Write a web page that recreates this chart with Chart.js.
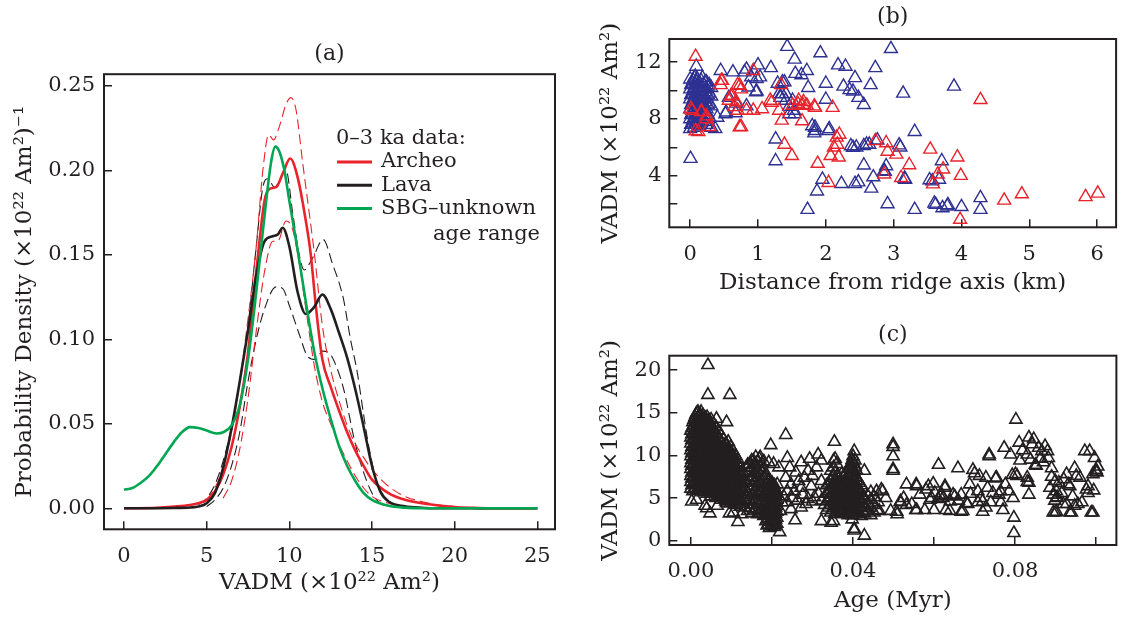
<!DOCTYPE html>
<html>
<head>
<meta charset="utf-8">
<script src="https://cdn.jsdelivr.net/npm/chart.js@4.4.1/dist/chart.umd.min.js"></script>
<style>
  html, body { margin: 0; padding: 0; background: #fff; }
  #wrap { position: relative; width: 1125px; height: 618px; }
  canvas { position: absolute; }
</style>
</head>
<body>
<div id="wrap">
  <canvas id="chartA" width="560" height="618" style="left:0;top:0"></canvas>
  <canvas id="chartB" width="565" height="309" style="left:560px;top:0"></canvas>
  <canvas id="chartC" width="565" height="309" style="left:560px;top:309px"></canvas>
</div>
<script>
// ---- panel (a): probability density curves, [VADM, density] ----
const sbgPdf = [[0,0.011],[0.5,0.012],[1,0.015],[1.5,0.019],[2,0.025],[2.5,0.032],[3,0.039],[3.5,0.045],[4,0.048],[4.5,0.0475],[5,0.046],[5.6,0.0443],[6,0.045],[6.5,0.049],[7,0.061],[7.5,0.088],[8,0.128],[8.5,0.173],[8.9,0.205],[9.15,0.214],[9.4,0.211],[9.7,0.2],[10,0.182],[10.5,0.153],[11,0.122],[11.5,0.093],[12,0.071],[12.5,0.053],[13,0.037],[13.5,0.025],[14,0.016],[14.5,0.009],[15,0.005],[16,0.0015],[17,0.0004],[18,0],[25,0]];
const archeoPdf = [[0,0],[2,0.0003],[3,0.001],[4,0.002],[4.5,0.003],[5,0.005],[5.5,0.01],[6,0.02],[6.5,0.036],[7,0.06],[7.5,0.092],[8,0.14],[8.5,0.182],[8.8,0.189],[9.2,0.19],[9.6,0.198],[10.05,0.207],[10.5,0.196],[11,0.17],[11.3,0.15],[11.6,0.12],[12,0.088],[12.5,0.072],[13,0.058],[13.5,0.045],[14,0.034],[14.5,0.025],[15,0.017],[16,0.009],[17,0.005],[18,0.003],[19,0.0017],[20,0.0008],[21,0.0003],[22,0],[25,0]];
const lavaPdf = [[0,0],[3,0.0002],[4,0.0005],[4.5,0.001],[5,0.003],[5.5,0.009],[6,0.024],[6.5,0.047],[7,0.075],[7.5,0.105],[8,0.138],[8.5,0.158],[9,0.161],[9.3,0.162],[9.6,0.166],[10,0.155],[10.5,0.128],[11,0.115],[11.5,0.119],[12,0.1265],[12.5,0.118],[13,0.104],[13.5,0.089],[14,0.07],[14.5,0.048],[15,0.025],[15.5,0.01],[16,0.004],[17,0.0012],[18,0.0003],[19,0],[25,0]];
// confidence bounds (dashed)
const archeoHi = [[5,0.005],[5.5,0.012],[6,0.025],[6.5,0.045],[7,0.075],[7.5,0.112],[8,0.155],[8.4,0.2],[8.75,0.221],[9.05,0.218],[9.4,0.226],[9.8,0.239],[10.1,0.243],[10.4,0.236],[10.8,0.205],[11.2,0.175],[11.5,0.152],[12,0.108],[12.5,0.082],[13,0.064],[13.5,0.049],[14,0.038],[14.5,0.03],[15,0.023],[16,0.013],[17,0.007],[18,0.004],[19,0.002],[20,0.001]];
const archeoLo = [[6,0.006],[6.5,0.016],[7,0.035],[7.5,0.065],[8,0.105],[8.5,0.14],[9,0.158],[9.3,0.158],[9.8,0.17],[10.2,0.165],[10.6,0.145],[11,0.118],[11.5,0.085],[12,0.063],[12.5,0.05],[13,0.038],[13.5,0.028],[14,0.019],[14.5,0.012],[15,0.007],[16,0.003],[17,0.001]];
const lavaHi = [[4.5,0.002],[5,0.006],[5.5,0.014],[6,0.028],[6.5,0.048],[7,0.075],[7.5,0.108],[8,0.155],[8.4,0.19],[8.7,0.195],[9.1,0.19],[9.8,0.2],[10.2,0.175],[10.6,0.15],[10.9,0.141],[11.4,0.148],[12.05,0.159],[12.6,0.145],[13.27,0.124],[13.7,0.1],[14.1,0.081],[14.5,0.055],[14.8,0.037],[15.4,0.012],[16,0.004],[17,0.001]];
const lavaLo = [[5,0.001],[5.5,0.005],[6,0.012],[6.5,0.025],[7,0.045],[7.5,0.075],[8,0.1],[8.5,0.118],[9.2,0.131],[9.6,0.13],[10,0.12],[10.6,0.103],[11.1,0.09],[11.6,0.088],[12,0.093],[12.4,0.092],[12.8,0.085],[13.3,0.07],[13.9,0.042],[14.4,0.024],[15,0.009],[15.5,0.003],[16,0.001]];

const aXTicks = [0, 5, 10, 15, 20, 25];
const aXLabels = ['0', '5', '10', '15', '20', '25'];
const aYTicks = [0, 0.05, 0.10, 0.15, 0.20, 0.25];
const aYLabels = ['0.00', '0.05', '0.10', '0.15', '0.20', '0.25'];

// ---- panel (b): VADM vs distance from ridge axis, [km, VADM] ----
const bBlueColumns = [
  [0.00, [7.3, 8.0, 8.7, 9.4, 10.1, 10.8]],
  [0.015, [7.6, 8.3, 9.0, 9.7, 10.4]],
  [0.03, [7.7, 8.4, 9.1, 9.8, 10.5]],
  [0.045, [7.9, 8.6, 9.3, 10.0, 10.7]],
  [0.06, [7.4, 8.1, 8.8, 9.5, 10.2, 10.9]],
  [0.075, [7.6, 8.3, 9.0, 9.7, 10.4, 11.0]],
  [0.09, [7.8, 8.5, 9.2, 9.9, 10.6, 11.7]],
  [0.105, [8.0, 8.7, 9.4, 10.1, 10.8]],
  [0.12, [7.5, 8.2, 8.9, 9.6, 10.3]],
  [0.14, [7.7, 8.4, 9.1, 9.8, 10.5]],
  [0.16, [7.9, 8.6, 9.3, 10.0, 10.7]],
  [0.18, [8.1, 8.8, 9.5, 10.2, 10.9]],
  [0.20, [8.3, 9.0, 9.7, 10.4]],
  [0.22, [7.8, 8.5, 9.2, 9.9, 10.6]],
  [0.24, [7.6, 8.7, 9.4, 10.1, 10.6]],
  [0.26, [8.3, 9.0, 9.7, 10.3]],
  [0.28, [8.1, 9.1, 9.8, 10.4]],
  [0.31, [7.4, 8.9, 9.6, 10.2]]
];
const bBlue = [[0.005,5.2],[1.43,13.1],[1.92,12.65],[2.96,12.95],[1.54,12.2],[1.19,11.6],[1.0,11.8],[0.83,11.5],[0.63,11.3],[0.45,11.4],[2.18,11.8],[2.29,11.7],[2.73,11.6],[1.55,11.2],[1.72,11.4],[1.64,11.1],[1.03,10.95],[0.9,10.95],[0.8,11.3],[2.43,10.9],[2.0,10.5],[1.39,10.6],[2.26,10.3],[2.66,10.4],[2.35,10.05],[2.4,9.95],[1.74,10.2],[0.98,9.95],[3.14,9.8],[3.89,10.3],[2.48,9.5],[2.56,9.0],[2.0,9.37],[1.35,9.77],[1.33,9.5],[1.41,9.3],[1.46,8.87],[1.54,8.35],[0.57,9.5],[0.68,9.1],[0.83,8.9],[0.52,8.35],[0.4,8.1],[0.37,7.3],[1.84,7.4],[1.84,7.17],[1.83,7.0],[2.04,7.17],[3.31,7.1],[1.26,6.57],[2.56,6.1],[2.4,5.98],[2.45,6.0],[2.6,6.2],[2.76,6.5],[3.1,6.0],[1.26,5.03],[2.56,4.73],[2.89,4.68],[3.71,5.03],[1.95,3.73],[2.23,3.43],[2.43,3.43],[2.48,3.54],[2.7,3.9],[2.86,4.33],[3.17,3.73],[3.57,3.61],[3.67,3.73],[1.87,2.9],[2.67,3.1],[4.28,2.43],[3.62,1.96],[3.72,1.72],[3.79,1.84],[4.0,1.8],[2.91,2.0],[3.31,1.6],[1.73,1.6],[4.28,1.6],[0.86,10.24],[0.97,9.9],[0.98,10.84],[1.29,10.5],[1.36,10.6],[1.31,9.77],[1.41,9.77],[1.51,9.3],[1.53,8.6],[1.46,8.35],[1.8,7.5],[2.05,7.3],[0.53,8.47],[0.67,8.42],[3.08,6.15],[2.87,4.28],[3.16,3.8],[3.53,3.69],[3.6,2.04],[3.8,1.93],[2.37,6.09],[2.64,6.2]];
const bRed = [[0.08,12.4],[0.03,8.6],[0.17,8.5],[0.12,7.1],[0.24,8.0],[0.28,7.45],[0.45,10.4],[0.47,10.7],[0.7,10.4],[0.75,10.1],[0.62,9.65],[0.57,9.3],[0.65,8.85],[0.7,8.6],[0.83,8.6],[0.93,8.6],[0.75,7.45],[0.93,11.4],[1.06,8.7],[1.18,9.3],[1.34,10.4],[1.31,8.6],[1.35,7.9],[1.39,6.2],[1.5,5.4],[1.51,8.95],[1.59,9.05],[1.67,9.2],[1.72,8.95],[1.84,8.8],[1.65,7.85],[2.1,8.8],[1.88,4.85],[2.04,3.5],[2.07,5.4],[2.16,6.7],[2.12,6.0],[2.19,5.3],[2.17,6.2],[2.73,6.45],[2.89,6.3],[2.91,5.7],[2.86,4.1],[3.04,5.5],[3.11,3.85],[3.23,4.75],[3.54,5.85],[3.58,3.4],[3.65,4.1],[3.73,4.45],[3.94,5.3],[3.99,4.0],[3.98,0.9],[4.28,9.35],[4.63,2.25],[4.89,2.7],[5.83,2.5],[6.01,2.75],[0.46,10.7],[0.73,10.35],[0.6,9.6],[0.68,9.2],[1.2,9.16],[1.6,9.3],[1.66,9.0],[1.83,8.9],[0.73,7.43],[0.01,8.7],[0.16,8.5],[0.24,8.2],[0.08,7.15],[2.2,6.9]];

const bXTicks = [0, 1, 2, 3, 4, 5, 6];
const bXLabels = ['0', '1', '2', '3', '4', '5', '6'];
const bYTicks = [2, 4, 6, 8, 10, 12];
const bYLabels = ['', '4', '', '8', '', '12'];

// ---- panel (c): VADM vs age, [Myr, VADM] ----
const cColumns = [
  [0.0000, [6.1,6.9,7.6,8.4,9.1,9.9,10.6,11.4,12.1,12.9]],
  [0.00025, [6.5,7.3,8.0,8.8,9.5,10.3,11.0,11.8,12.5,13.2]],
  [0.0005, [5.8,6.6,7.3,8.1,8.8,9.6,10.3,11.1,11.8,12.6,13.4,13.9]],
  [0.00075, [6.0,6.8,7.5,8.3,9.0,9.8,10.5,11.3,12.0,12.8,13.6,14.2]],
  [0.0010, [6.2,7.0,7.8,8.5,9.3,10.0,10.8,11.5,12.3,13.0,13.8,14.5]],
  [0.00125, [6.5,7.3,8.1,8.8,9.6,10.3,11.1,11.8,12.6,13.3,14.1,14.8]],
  [0.0015, [5.9,6.7,7.4,8.2,8.9,9.7,10.4,11.2,11.9,12.7,13.4,14.2,15.0]],
  [0.00175, [6.1,6.9,7.6,8.4,9.1,9.9,10.6,11.4,12.1,12.9,13.6,14.4,15.1]],
  [0.0020, [6.3,7.1,7.8,8.6,9.3,10.1,10.8,11.6,12.3,13.1,13.8,14.6]],
  [0.00225, [6.6,7.4,8.1,8.9,9.6,10.4,11.1,11.9,12.6,13.4,14.1,14.8]],
  [0.0025, [6.0,6.8,7.5,8.3,9.0,9.8,10.5,11.3,12.0,12.8,13.5,14.3,15.1]],
  [0.00275, [6.2,7.0,7.7,8.5,9.2,10.0,10.7,11.5,12.2,13.0,13.7,14.5]],
  [0.0030, [5.7,6.5,7.2,8.0,8.7,9.5,10.2,11.0,11.7,12.5,13.2,14.0,14.7]],
  [0.00325, [5.9,6.7,7.4,8.2,8.9,9.7,10.4,11.2,11.9,12.7,13.4,14.2]],
  [0.0035, [6.1,6.9,7.6,8.4,9.1,9.9,10.6,11.4,12.1,12.9,13.6,14.4]],
  [0.00375, [6.4,7.2,7.9,8.7,9.4,10.2,10.9,11.7,12.4,13.2,13.9]],
  [0.0040, [5.5,6.3,7.0,7.8,8.5,9.3,10.0,10.8,11.5,12.3,13.0,13.8,14.5]],
  [0.00425, [5.8,6.6,7.3,8.1,8.8,9.6,10.3,11.1,11.8,12.6,13.3,14.1]],
  [0.0045, [5.8,6.6,7.3,8.1,8.8,9.6,10.3,11.1,11.8,12.6,13.3,14.1]],
  [0.00475, [5.5,6.2,7.0,7.7,8.5,9.2,10.0,10.7,11.5,12.2,13.0,13.8]],
  [0.0050, [5.2,6.0,6.7,7.5,8.2,9.0,9.7,10.5,11.2,12.0,12.7,13.5,14.2]],
  [0.0053, [5.8,6.6,7.3,8.1,8.8,9.6,10.3,11.1,11.8,12.6,13.3]],
  [0.0056, [5.5,6.3,7.0,7.8,8.5,9.3,10.0,10.8,11.5,12.3,13.0,13.7]],
  [0.0059, [5.2,6.0,6.8,7.5,8.3,9.0,9.8,10.5,11.3,12.0,12.8]],
  [0.0062, [5.0,5.8,6.5,7.3,8.0,8.8,9.5,10.3,11.0,11.8,12.5,13.3]],
  [0.0065, [5.6,6.4,7.1,7.9,8.6,9.4,10.1,10.9,11.6,12.4]],
  [0.0068, [5.3,6.1,6.8,7.6,8.3,9.1,9.8,10.6,11.3,12.1,12.9]],
  [0.0071, [5.1,5.9,6.6,7.4,8.1,8.9,9.6,10.4,11.1,11.9]],
  [0.0074, [4.8,5.6,6.3,7.1,7.8,8.6,9.3,10.1,10.8,11.6,12.4]],
  [0.0077, [5.4,6.2,6.9,7.7,8.4,9.2,9.9,10.7,11.4]],
  [0.0080, [5.1,5.9,6.6,7.4,8.1,8.9,9.6,10.4,11.1,11.9]],
  [0.0083, [4.9,5.7,6.4,7.2,7.9,8.7,9.4,10.2,10.9]],
  [0.0086, [4.6,5.4,6.1,6.9,7.6,8.4,9.1,9.9,10.6,11.4]],
  [0.0089, [5.2,6.0,6.7,7.5,8.2,9.0,9.7,10.5,11.1]],
  [0.0092, [4.9,5.7,6.4,7.2,7.9,8.7,9.4,10.2,10.9,11.6]],
  [0.0095, [4.7,5.5,6.2,7.0,7.7,8.5,9.2,10.0,10.7]],
  [0.0098, [4.4,5.2,5.9,6.7,7.4,8.2,8.9,9.7,10.4,11.0]],
  [0.0101, [5.0,5.8,6.5,7.3,8.0,8.8,9.5,10.2]],
  [0.0104, [4.7,5.5,6.2,7.0,7.7,8.5,9.2,9.9,10.5]],
  [0.0107, [4.5,5.3,6.0,6.8,7.5,8.3,9.0,9.7]],
  [0.0110, [4.2,5.0,5.7,6.5,7.2,8.0,8.7,9.5,10.0]],
  [0.0113, [4.8,5.6,6.3,7.1,7.8,8.6,9.2]],
  [0.0116, [4.5,5.3,6.0,6.8,7.5,8.3,9.0,9.5]],
  [0.0119, [4.3,5.1,5.8,6.6,7.3,8.1,8.8]],
  [0.0122, [4.0,4.8,5.5,6.3,7.0,7.8,8.6]],
  [0.0125, [4.6,5.4,6.1,6.9,7.6]],
  [0.0128, [4.3,5.1,5.8,6.6,7.3,8.0]],
  [0.0134, [3.9,4.7,5.4,6.2,7.0]],
  [0.0140, [3.5,4.6,5.7,6.8,7.9,8.9]],
  [0.0145, [3.8,4.9,6.0,7.1,8.2,9.0]],
  [0.0150, [3.2,4.2,5.3,6.4,7.5,8.5,9.4]],
  [0.0155, [3.5,4.6,5.7,6.8,7.9,8.9]],
  [0.0160, [3.7,4.8,5.9,7.0,8.0,9.0,9.8]],
  [0.0165, [3.1,4.2,5.3,6.3,7.4,8.3,9.2]],
  [0.0170, [3.3,4.4,5.5,6.6,7.7,8.6]],
  [0.0175, [3.6,4.7,5.8,6.9,8.0,9.0]],
  [0.0180, [2.9,4.0,5.1,6.2,7.3,8.3,9.3]],
  [0.0185, [2.3,3.0,3.7,4.5,5.6,6.5,7.6]],
  [0.0188, [1.8,2.5,3.2,3.9,4.6,5.3,6.0,6.7]],
  [0.0191, [1.9,2.6,3.3,4.0,4.8,5.5,6.2,6.9]],
  [0.0194, [1.5,2.2,2.9,3.6,4.3,5.0,5.7,6.4,7.1]],
  [0.0197, [1.7,2.4,3.1,3.8,4.5,5.2,5.9,6.6]],
  [0.0200, [1.9,2.6,3.3,4.0,4.7,5.4,6.1,6.8]],
  [0.0203, [2.1,2.8,3.5,4.2,4.9,5.6,6.3]],
  [0.0206, [1.6,2.3,3.0,3.7,4.4,5.1,5.8,6.5]],
  [0.0209, [1.8,2.5,3.2,3.9,4.6,5.3,6.0]],
  [0.0212, [2.0,2.7,3.4,4.1,4.8,5.5]],
  [0.0335, [3.6,4.6,5.6,6.5]],
  [0.0340, [3.9,4.9,5.8,6.7]],
  [0.0345, [3.3,4.2,5.1,6.0,7.0,8.2]],
  [0.0348, [3.6,4.5,5.4,6.3,7.4]],
  [0.0352, [3.8,4.7,5.6,6.6,7.6,8.6,9.4]],
  [0.0355, [3.1,4.1,5.0,6.0,7.0,8.0]],
  [0.0358, [3.4,4.3,5.3,6.2,7.2]],
  [0.0362, [3.9,4.8,5.8,6.8,7.7]],
  [0.0365, [3.6,4.5,5.4,6.4,7.3]],
  [0.0369, [3.4,4.3,5.2,6.1,7.0]],
  [0.0372, [3.2,4.1,5.0,5.9,6.9,7.8]],
  [0.0376, [3.7,4.6,5.5,6.5,7.5]],
  [0.0380, [3.5,4.4,5.3,6.2,7.1]],
  [0.0384, [3.2,4.1,5.0,6.0,6.9,8.0]],
  [0.0388, [3.0,3.9,4.8,5.7,6.6,7.6,8.5]],
  [0.0392, [3.6,4.5,5.4,6.3,7.3,8.4]],
  [0.0395, [3.3,4.2,5.1,6.0,7.0,8.0,9.0]],
  [0.0398, [3.0,3.9,4.8,5.8,6.8,7.7,8.6,9.5]],
  [0.0400, [3.7,4.6,5.5,6.4,7.4,8.3,9.3,9.9]],
  [0.0402, [3.4,4.3,5.2,6.1,7.1,8.0,9.0]],
  [0.0405, [3.1,4.0,4.9,5.8,6.8,7.7,8.7,9.4]],
  [0.0408, [3.6,4.5,5.5,6.4,7.4,8.3]],
  [0.0412, [3.4,4.3,5.2,6.1,7.0]],
  [0.0416, [3.1,4.0,4.9,5.9,6.8]],
  [0.0420, [2.9,3.8,4.7,5.6,6.5]],
  [0.0424, [3.5,4.4,5.3,6.2]],
  [0.0428, [3.2,4.1,5.0]],
  [0.0436, [3.5,4.4,5.3]],
  [0.0444, [3.0,3.9,4.8,5.7]],
  [0.0452, [3.3,4.2,5.1]]
];
const cScatter = [[0.0042,20.6],[0.0042,17.1],[0.0096,17.1],[0.0063,14.3],[0.0088,13.9],
  [0.0002,4.6],[0.0014,4.8],[0.0035,4.1],[0.0039,3.8],[0.0047,3.2],[0.0065,4.1],[0.0088,4.4],[0.0095,3.2],[0.0105,3.3],[0.0116,2.2],[0.0125,3.1],
  [0.0197,11.2],[0.0234,12.4],[0.0219,1.0],[0.0169,9.6],[0.0238,9.7],[0.0272,9.2],[0.0289,8.2],[0.0314,10.1],[0.0322,9.4],[0.031,8.6],[0.0259,8.0],[0.028,7.4],[0.0234,7.4],[0.0247,6.6],[0.0213,6.6],[0.0255,5.8],[0.0225,4.5],[0.0238,4.5],[0.0263,4.7],[0.0289,4.9],[0.0305,5.1],[0.0322,4.7],[0.0339,4.9],[0.0284,4.3],[0.0272,3.9],[0.0247,3.7],[0.0221,3.5],[0.0238,5.8],[0.0272,6.2],[0.0297,6.4],[0.0322,7.0],[0.0204,5.7],[0.0217,8.6],[0.0204,9.0],[0.0192,9.2],[0.0171,9.8],[0.0154,9.4],[0.0137,8.6],[0.0322,2.3],[0.0257,2.4],[0.0352,2.3],[0.0356,9.6],[0.036,9.0],[0.0229,5.2],[0.025,5.0],[0.0276,5.4],[0.03,4.6],[0.0315,5.5],[0.033,4.2],[0.0266,7.0],[0.03,7.6],[0.0244,8.6],[0.0293,9.6],
  [0.0354,11.6],[0.0403,10.5],[0.0403,1.4],[0.0403,1.2],[0.0428,0.6],[0.0428,8.2],[0.0346,2.1],[0.0398,2.5],[0.046,3.6],[0.0462,4.5],[0.0458,5.8],[0.047,6.0],
  [0.0473,5.8],[0.0481,5.0],[0.0465,3.5],[0.0493,3.5],[0.0509,3.1],[0.0499,11.3],[0.0499,11.0],[0.0499,9.9],[0.0499,8.4],[0.0499,8.2],[0.0532,6.6],[0.0556,6.6],[0.0525,5.0],[0.0517,4.5],[0.0532,4.2],[0.0545,4.3],[0.0557,3.6],[0.0577,3.6],[0.0508,3.4],[0.0557,6.4],[0.058,6.0],[0.0565,5.4],[0.0586,6.4],[0.0594,5.0],[0.0602,5.6],[0.061,4.9],[0.0611,8.9],[0.0619,5.4],[0.0615,5.2],[0.0622,5.0],[0.0627,6.2],[0.0627,6.4],[0.0629,3.6],[0.0639,3.5],[0.0647,5.4],[0.0651,5.2],[0.0659,8.5],[0.0667,5.4],[0.0667,3.4],[0.0671,3.5],[0.068,4.4],[0.0683,4.3],[0.0688,6.6],[0.0696,8.3],[0.07,7.9],[0.0708,5.8],[0.0708,4.5],[0.0712,7.6],[0.072,3.4],[0.0728,7.4],[0.0728,3.9],[0.0732,6.2],[0.0736,10.1],[0.0736,9.9],[0.074,4.5],[0.0752,7.3],[0.0754,7.4],[0.0764,5.8],[0.0765,4.5],[0.0773,10.9],[0.0785,5.8],[0.0789,10.1],[0.0793,7.7],[0.0801,7.8],[0.0805,7.6],[0.0797,2.7],[0.0797,0.9],[0.0802,14.2],[0.081,11.5],[0.083,6.9],[0.0834,5.4],[0.0834,12.1],[0.0846,11.9],[0.0842,11.3],[0.0858,10.9],[0.0874,11.1],[0.0866,10.5],[0.083,10.1],[0.0838,9.5],[0.085,8.9],[0.0852,8.8],[0.0882,9.7],[0.089,8.5],[0.089,7.5],[0.0899,7.0],[0.0902,5.8],[0.0902,5.0],[0.0904,5.1],[0.0894,5.4],[0.0898,4.7],[0.0894,3.3],[0.0899,3.3],[0.0902,3.4],[0.0919,4.3],[0.0927,7.8],[0.0931,6.6],[0.0935,6.4],[0.0927,4.3],[0.0947,8.5],[0.0951,7.6],[0.0947,4.1],[0.0955,4.3],[0.0939,3.3],[0.0935,3.3],[0.0976,6.0],[0.098,6.4],[0.098,5.6],[0.0988,3.3],[0.0992,3.3],[0.0972,10.5],[0.0984,10.5],[0.0996,9.7],[0.1,8.3],[0.1,8.1],[0.1002,8.0],[0.1004,8.7],[0.0992,7.8],[0.083,7.4],[0.0834,6.8],[0.0886,6.2],[0.0555,3.6],[0.0517,4.6],[0.059,4.8],[0.066,4.7],[0.069,5.5],[0.0715,5.0],[0.0745,5.6],[0.076,5.4],[0.077,3.6],[0.0776,6.6],[0.072,4.6],[0.0598,6.7],[0.064,4.6],[0.06,3.6],[0.0795,5.0],[0.0812,9.4],[0.0818,10.6],[0.0862,9.6],[0.087,9.2],[0.088,10.5],[0.0908,6.8],[0.0915,5.6],[0.092,7.2],[0.0942,5.2],[0.0965,4.5],[0.096,7.4],[0.0994,5.9]];

const cXTicks = [0, 0.02, 0.04, 0.06, 0.08, 0.10];
const cXLabels = ['0.00', '', '0.04', '', '0.08', ''];
const cYTicks = [0, 5, 10, 15, 20];
const cYLabels = ['0', '5', '10', '15', '20'];

// ---- styling ----
const INK = '#231f20';
const RED = '#e8232b';
const GREEN = '#00a651';
const NAVY = '#2e3192';
Chart.defaults.font.family = "'DejaVu Serif', serif";
Chart.defaults.color = INK;

const toXY = pairs => pairs.map(([x, y]) => ({ x, y }));
const fromColumns = cols => cols.flatMap(([x, ys]) => ys.map(y => ({ x, y })));

// axis with inward ticks and a fixed thickness, so the plot box lands where it should
function axis(o) {
  return {
    type: 'linear', min: o.min, max: o.max,
    afterBuildTicks: s => { s.ticks = o.ticks.map(v => ({ value: v })); },
    afterFit: s => {
      if (s.isHorizontal()) s.height = o.size; else s.width = o.size;
      s.paddingLeft = s.paddingRight = s.paddingTop = s.paddingBottom = 0;
    },
    border: { display: false },
    grid: { drawOnChartArea: false, tickLength: -8, lineWidth: 1.5, color: INK },
    ticks: { padding: o.pad, autoSkip: false, maxRotation: 0, color: INK,
             font: { size: 21 }, callback: (v, i) => o.labels[i] },
    title: { display: true, text: o.title, color: INK, font: { size: 23 }, padding: o.titlePad }
  };
}

// box round the plot area
const frame = {
  id: 'frame',
  afterDatasetsDraw(chart) {
    const { ctx, chartArea: a } = chart;
    ctx.save();
    ctx.strokeStyle = INK;
    ctx.lineWidth = 2;
    ctx.strokeRect(a.left, a.top, a.right - a.left, a.bottom - a.top);
    ctx.restore();
  }
};

// legend of panel (a)
const legendRows = [['Archeo', RED], ['Lava', INK], ['SBG–unknown', GREEN]];
const legendA = {
  id: 'legendA',
  afterDraw(chart) {
    const ctx = chart.ctx;
    ctx.save();
    ctx.font = "21px 'DejaVu Serif'";
    ctx.fillStyle = INK;
    ctx.textBaseline = 'middle';
    ctx.fillText('0–3 ka data:', 336, 139);
    legendRows.forEach(([txt, col], i) => {
      const y = 162 + i * 23.3;
      ctx.strokeStyle = col;
      ctx.lineWidth = 3;
      ctx.beginPath(); ctx.moveTo(337, y); ctx.lineTo(372, y); ctx.stroke();
      ctx.fillText(txt, 381, y);
    });
    ctx.fillText('age range', 433, 235);
    ctx.restore();
  }
};

const titleOpts = (text, top, bottom) => ({
  display: true, text, fullSize: false, color: INK,
  font: { size: 22, weight: 'normal' }, padding: { top, bottom }
});

const curve = (data, color, width, dash) => ({
  data: toXY(data), showLine: true, borderColor: color, borderWidth: width,
  borderDash: dash || [], pointRadius: 0, cubicInterpolationMode: 'monotone', fill: false
});

new Chart(document.getElementById('chartA'), {
  type: 'scatter',
  data: {
    datasets: [
      curve(sbgPdf, GREEN, 2.6),
      curve(lavaPdf, INK, 2.6),
      curve(archeoPdf, RED, 2.6),
      curve(archeoHi, RED, 1.1, [10, 5]),
      curve(archeoLo, RED, 1.1, [10, 5]),
      curve(lavaHi, INK, 1.1, [10, 5]),
      curve(lavaLo, INK, 1.1, [10, 5])
    ]
  },
  options: {
    responsive: false, animation: false, devicePixelRatio: 1, events: [],
    layout: { padding: { left: 0, top: 0, right: 5, bottom: 0 } },
    plugins: { legend: { display: false }, tooltip: { enabled: false },
               title: titleOpts('(a)', 41.5, 6.3) },
    scales: {
      x: axis({ min: -1.21, max: 26.07, ticks: aXTicks, labels: aXLabels, size: 88.7, pad: 23,
                title: 'VADM (×10²² Am²)', titlePad: { top: 0, bottom: 21 } }),
      y: axis({ min: -0.01243, max: 0.25686, ticks: aYTicks, labels: aYLabels, size: 104, pad: 17,
                title: 'Probability Density (×10²² Am²)⁻¹', titlePad: { top: 11, bottom: 0 } })
    }
  },
  plugins: [frame, legendA]
});

const triangles = (data, color, r, bw) => ({
  data, pointStyle: 'triangle', pointRadius: r, pointBorderWidth: bw,
  pointBackgroundColor: 'rgba(0,0,0,0)', pointBorderColor: color, showLine: false
});

new Chart(document.getElementById('chartB'), {
  type: 'scatter',
  data: {
    datasets: [
      triangles(toXY(bRed), RED, 7.5, 1.4),
      triangles(fromColumns(bBlueColumns).concat(toXY(bBlue)), NAVY, 7.5, 1.4)
    ]
  },
  options: {
    responsive: false, animation: false, devicePixelRatio: 1, events: [],
    layout: { padding: { left: 0, top: 0, right: 5, bottom: 0 } },
    plugins: { legend: { display: false }, tooltip: { enabled: false },
               title: titleOpts('(b)', 3.8, 8.8) },
    scales: {
      x: axis({ min: -0.308, max: 6.28, ticks: bXTicks, labels: bXLabels, size: 81.7, pad: 23,
                title: 'Distance from ridge axis (km)', titlePad: { top: 0, bottom: 12 } }),
      y: axis({ min: 0.353, max: 13.64, ticks: bYTicks, labels: bYLabels, size: 109.3, pad: 15.6,
                title: 'VADM (×10²² Am²)', titlePad: { top: 37, bottom: 0 } })
    }
  },
  plugins: [frame]
});

new Chart(document.getElementById('chartC'), {
  type: 'scatter',
  data: {
    datasets: [
      triangles(fromColumns(cColumns).concat(toXY(cScatter)), INK, 7, 1.6)
    ]
  },
  options: {
    responsive: false, animation: false, devicePixelRatio: 1, events: [],
    layout: { padding: { left: 0, top: 0, right: 2.3, bottom: 0 } },
    plugins: { legend: { display: false }, tooltip: { enabled: false },
               title: titleOpts('(c)', 12.8, 7.5) },
    scales: {
      x: axis({ min: -0.00533, max: 0.105, ticks: cXTicks, labels: cXLabels, size: 73, pad: 22,
                title: 'Age (Myr)', titlePad: { top: 0, bottom: 3 } }),
      y: axis({ min: -0.504, max: 21.69, ticks: cYTicks, labels: cYLabels, size: 109.3, pad: 16,
                title: 'VADM (×10²² Am²)', titlePad: { top: 37, bottom: 0 } })
    }
  },
  plugins: [frame]
});
</script>
</body>
</html>
